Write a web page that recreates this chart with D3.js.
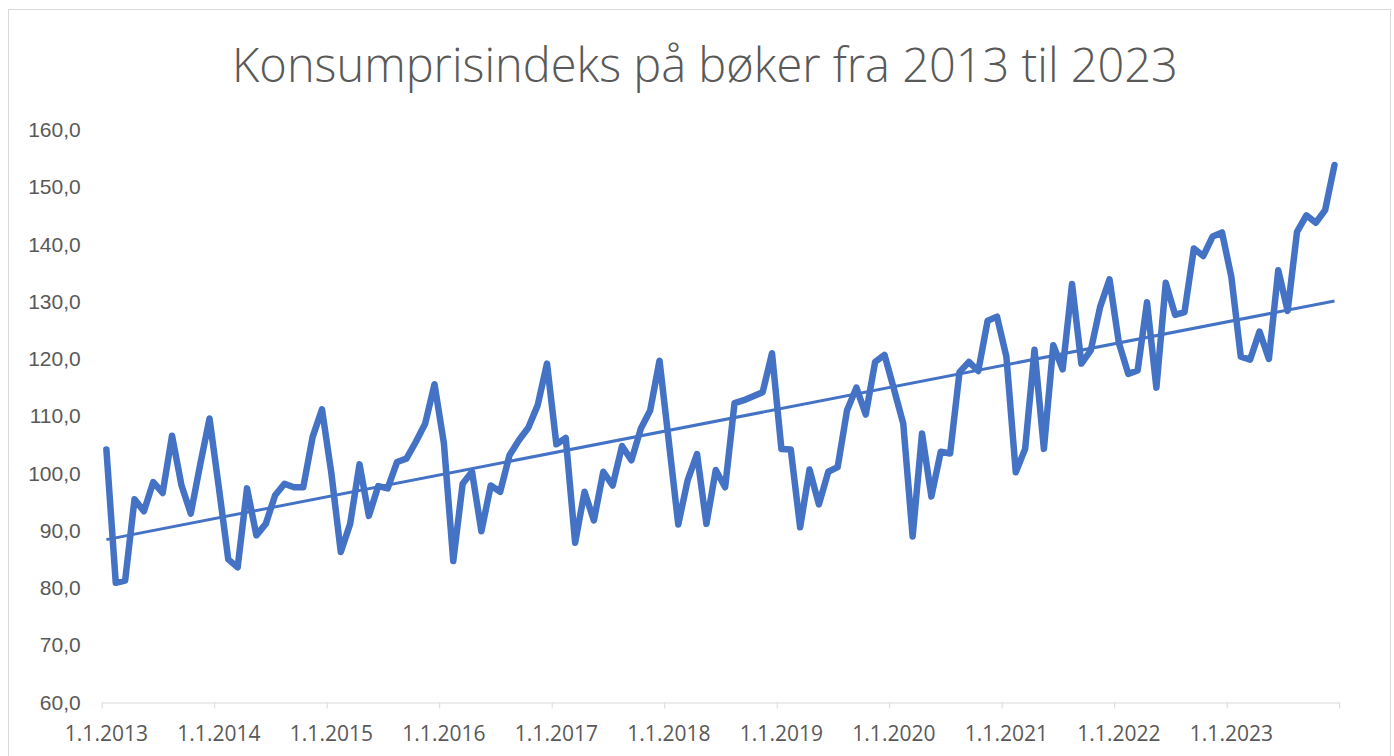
<!DOCTYPE html>
<html>
<head>
<meta charset="utf-8">
<script src="https://cdn.jsdelivr.net/npm/d3@7"></script>
<style>
  body { margin: 0; background: #fff; }
  svg { display: block; font-family: "Open Sans", "Noto Sans", sans-serif; }
</style>
</head>
<body>
<svg id="chart" width="1394" height="756"></svg>
<script>
const title = "Konsumprisindeks på bøker fra 2013 til 2023";
const years = [2013, 2014, 2015, 2016, 2017, 2018, 2019, 2020, 2021, 2022, 2023];
const tickLabels = years.map(y => `1.1.${y}`);
const yTicks = [60, 70, 80, 90, 100, 110, 120, 130, 140, 150, 160];

// monthly index values, Jan 2013 - Dec 2023
const values = [
  104.2, 80.9, 81.3, 95.5, 93.4, 98.5, 96.6, 106.6, 98.0, 93.0, 101.5, 109.6,
  97.5, 85.0, 83.6, 97.4, 89.2, 91.2, 96.2, 98.2, 97.6, 97.6, 106.4, 111.2,
  100.0, 86.3, 91.2, 101.6, 92.6, 97.8, 97.4, 102.0, 102.6, 105.5, 108.7, 115.6,
  105.3, 84.7, 98.2, 100.3, 89.9, 97.9, 96.8, 103.2, 105.8, 108.0, 111.9, 119.2,
  105.1, 106.2, 87.9, 96.8, 91.8, 100.3, 97.9, 104.8, 102.3, 107.8, 111.0, 119.7,
  105.5, 91.1, 98.8, 103.4, 91.2, 100.6, 97.6, 112.3, 112.8, 113.5, 114.2, 121.0,
  104.3, 104.2, 90.6, 100.7, 94.6, 100.3, 101.1, 111.0, 115.0, 110.3, 119.5, 120.7,
  114.8, 108.7, 89.0, 107.0, 96.0, 103.8, 103.5, 117.7, 119.5, 117.9, 126.7, 127.4,
  120.4, 100.2, 104.3, 121.6, 104.3, 122.4, 118.2, 133.1, 119.2, 121.5, 129.1, 133.9,
  122.8, 117.4, 118.0, 129.9, 115.0, 133.3, 127.7, 128.2, 139.3, 138.0, 141.4, 142.1,
  134.3, 120.4, 119.9, 124.8, 120.0, 135.5, 128.4, 142.2, 145.1, 143.8, 146.0, 153.9
];

(() => {
  const svg = d3.select("#chart");
  const textColor = "#595959";
  const lineColor = "#4472C4";
  const labelSize = 21;

  // chart frame
  svg.append("rect")
    .attr("x", 8.5).attr("y", 9.5)
    .attr("width", 1382).attr("height", 760)
    .attr("fill", "none").attr("stroke", "#D9D9D9");

  const plot = { left: 101.7, right: 1339.2, top: 130, bottom: 702.5 };

  const x = d3.scaleLinear().domain([-0.5, values.length - 0.5]).range([plot.left, plot.right]);
  const y = d3.scaleLinear().domain([60, 160]).range([plot.bottom, plot.top]);

  // title, fitted to the reference width
  const t = svg.append("text")
    .attr("x", 705).attr("y", 82)
    .attr("text-anchor", "middle")
    .attr("fill", textColor)
    .attr("font-weight", 300)
    .attr("font-size", 40)
    .text(title);
  const tw = t.node().getComputedTextLength();
  t.attr("font-size", 40 * 946 / tw);

  // y axis labels only
  const yAxis = svg.append("g")
    .attr("transform", `translate(${plot.left},0)`)
    .call(d3.axisLeft(y).tickValues(yTicks).tickSize(0).tickPadding(21)
      .tickFormat(d => d3.format(".1f")(d).replace(".", ",")));
  yAxis.select(".domain").remove();
  yAxis.selectAll("text").attr("fill", textColor).attr("font-size", labelSize);

  // x axis: ticks at year boundaries, labels at January
  const boundaries = d3.range(0, values.length + 1, 12).map(i => i - 0.5);
  const xAxis = svg.append("g")
    .attr("transform", `translate(0,${plot.bottom})`)
    .call(d3.axisBottom(x).tickValues(boundaries).tickSize(6).tickSizeOuter(0).tickFormat(""));
  xAxis.select(".domain").attr("stroke", "#D9D9D9");
  xAxis.selectAll(".tick line").attr("stroke", "#D9D9D9");

  svg.append("g")
    .selectAll("text")
    .data(tickLabels)
    .join("text")
    .attr("x", (d, i) => x(i * 12))
    .attr("y", plot.bottom + 38)
    .attr("text-anchor", "middle")
    .attr("fill", textColor)
    .attr("font-size", labelSize)
    .text(d => d);

  // data line
  svg.append("path")
    .datum(values)
    .attr("fill", "none")
    .attr("stroke", lineColor)
    .attr("stroke-width", 6.5)
    .attr("stroke-linejoin", "round")
    .attr("stroke-linecap", "round")
    .attr("d", d3.line().x((d, i) => x(i)).y(d => y(d)));

  // linear trend line (least squares)
  const n = values.length;
  const mx = d3.mean(values, (d, i) => i), my = d3.mean(values);
  const slope = d3.sum(values, (d, i) => (i - mx) * (d - my)) / d3.sum(values, (d, i) => (i - mx) ** 2);
  const icpt = my - slope * mx;
  svg.append("line")
    .attr("x1", x(0)).attr("y1", y(icpt))
    .attr("x2", x(n - 1)).attr("y2", y(icpt + slope * (n - 1)))
    .attr("stroke", lineColor)
    .attr("stroke-width", 3);
})();
</script>
</body>
</html>
